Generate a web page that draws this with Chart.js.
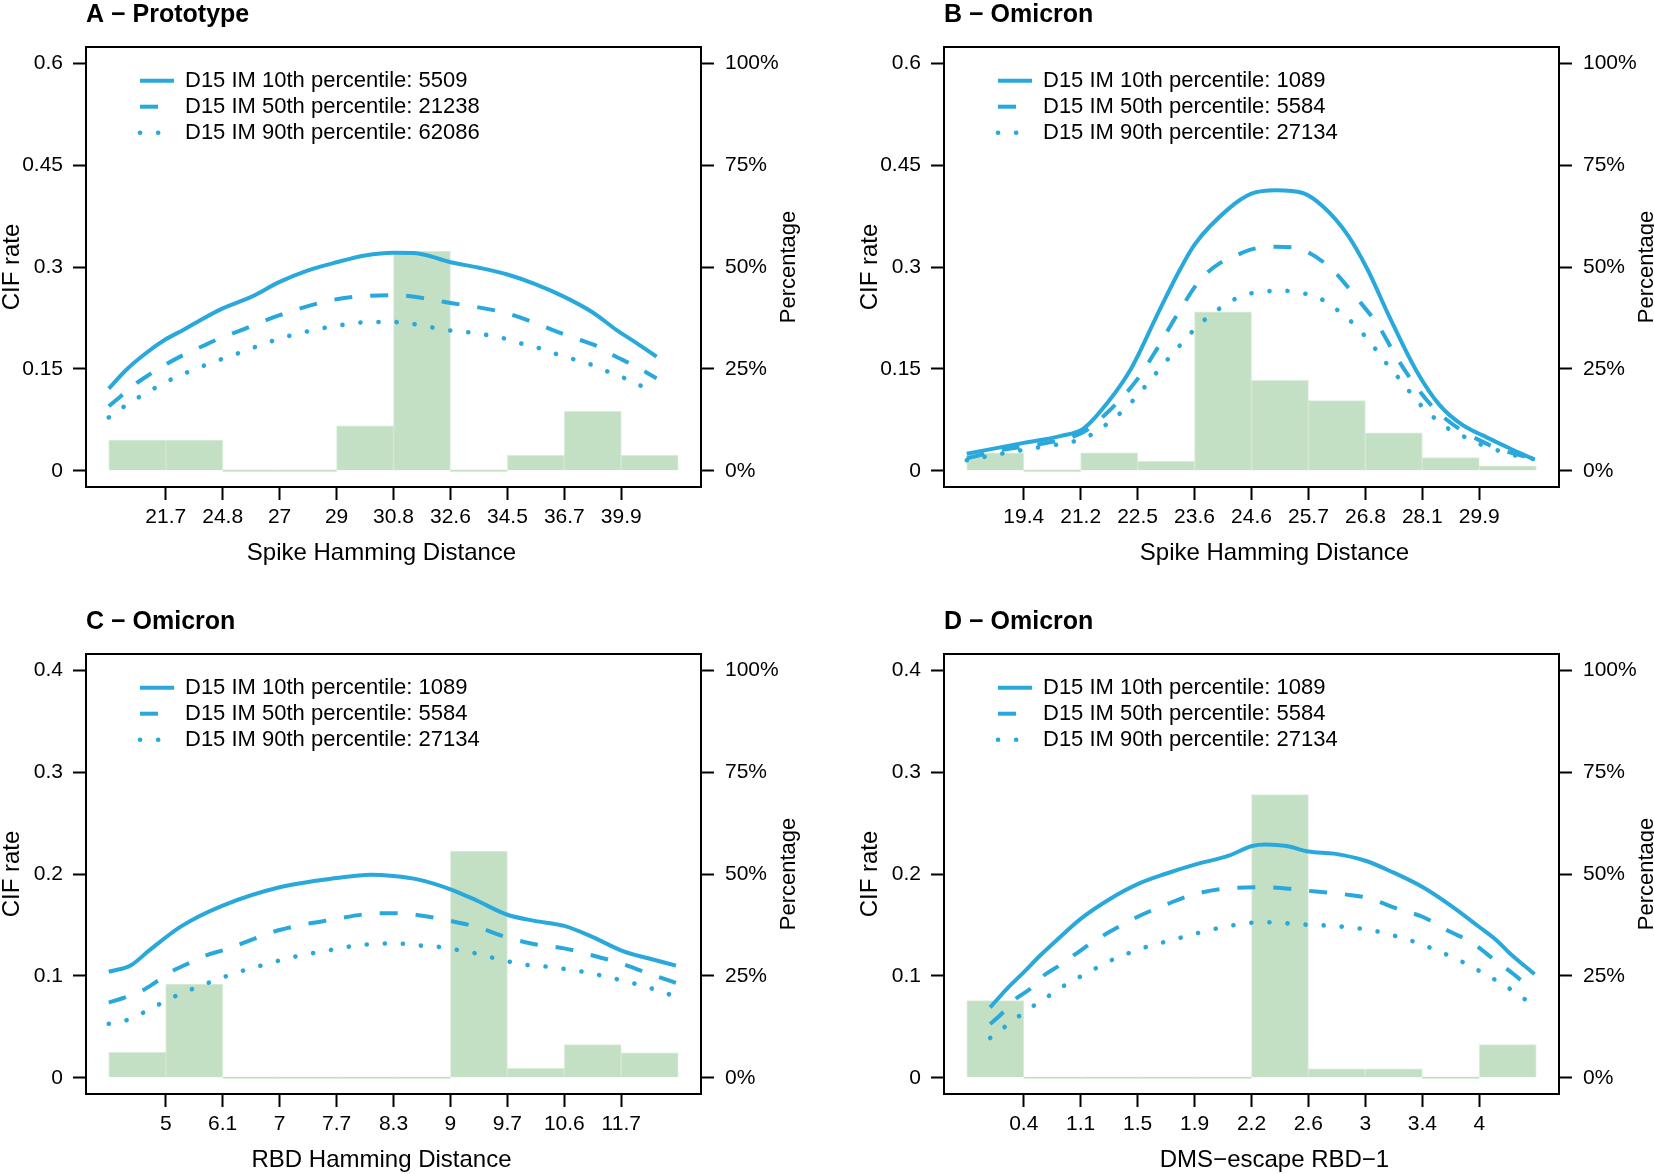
<!DOCTYPE html>
<html>
<head>
<meta charset="utf-8">
<script src="https://cdn.jsdelivr.net/npm/chart.js@4.4.1/dist/chart.umd.min.js"></script>
<style>
  html, body { margin: 0; padding: 0; background: #fff; }
  body { width: 1654px; height: 1174px; position: relative; overflow: hidden; }
  canvas { position: absolute; }
</style>
</head>
<body>
<canvas id="chartA" width="858" height="567" style="left:0px;top:0px"></canvas>
<canvas id="chartB" width="796" height="567" style="left:858px;top:0px"></canvas>
<canvas id="chartC" width="858" height="567" style="left:0px;top:607px"></canvas>
<canvas id="chartD" width="796" height="567" style="left:858px;top:607px"></canvas>
<script>
// tick labels on the bin boundaries
var xTicksA = ['21.7', '24.8', '27', '29', '30.8', '32.6', '34.5', '36.7', '39.9'];
var xTicksB = ['19.4', '21.2', '22.5', '23.6', '24.6', '25.7', '26.8', '28.1', '29.9'];
var xTicksC = ['5', '6.1', '7', '7.7', '8.3', '9', '9.7', '10.6', '11.7'];
var xTicksD = ['0.4', '1.1', '1.5', '1.9', '2.2', '2.6', '3', '3.4', '4'];

var cifTicksAB = [0, 0.15, 0.3, 0.45, 0.6];
var cifTicksCD = [0, 0.1, 0.2, 0.3, 0.4];
var pctTicks = [0, 25, 50, 75, 100];

// histogram, % of subjects per bin (10 bins)
var pctA = [7.5, 7.5, 0, 0, 11.0, 53.9, 0, 3.8, 14.6, 3.8];
var pctB = [4.4, 0, 4.4, 2.3, 39.0, 22.2, 17.2, 9.3, 3.2, 1.2];
var pctC = [6.2, 23.0, 0, 0, 0, 0, 55.6, 2.3, 8.1, 6.1];
var pctD = [18.9, 0, 0, 0, 0, 69.5, 2.2, 2.2, 0, 8.1];

// CIF curves: [position in bins, CIF rate]
var p10A = [[0,0.121],[0.3,0.148],[0.65,0.173],[1,0.1935],[1.3,0.207],[1.53,0.218],[2,0.239],[2.5,0.256],[3,0.278],[3.5,0.295],[4,0.307],[4.5,0.317],[5,0.321],[5.36,0.3207],[6,0.307],[6.5,0.299],[7,0.289],[7.5,0.2745],[8,0.256],[8.5,0.233],[8.92,0.207],[9.27,0.188],[9.62,0.168]];
var p50A = [[0,0.095],[0.2,0.109],[0.48,0.1286],[0.74,0.143],[1.03,0.158],[1.3,0.17],[1.65,0.1836],[1.91,0.1935],[2.26,0.2047],[3,0.229],[4,0.2525],[5,0.2585],[6,0.247],[7,0.2316],[7.98,0.2013],[8.28,0.1925],[8.6,0.1826],[8.86,0.17],[9.21,0.1556],[9.45,0.1443],[9.62,0.136]];
var p90A = [[0,0.0785],[0.26,0.094],[0.54,0.1089],[0.83,0.1227],[1.12,0.1354],[1.43,0.1468],[1.74,0.157],[2.05,0.1664],[2.35,0.1752],[2.66,0.185],[2.98,0.194],[3.29,0.2013],[4,0.2134],[4.63,0.219],[4.98,0.219],[5.3,0.2167],[5.6,0.2123],[5.95,0.207],[6.23,0.2047],[6.55,0.201],[6.87,0.1964],[7.19,0.1885],[7.51,0.1817],[7.82,0.1729],[8.15,0.1645],[8.46,0.1566],[8.77,0.1457],[9.08,0.1354],[9.38,0.1236],[9.62,0.114]];

var p10B = [[0,0.025],[1,0.041],[1.64,0.051],[2.05,0.062],[2.46,0.099],[2.89,0.151],[3.33,0.227],[3.68,0.286],[4,0.333],[4.6,0.386],[5,0.408],[5.43,0.413],[5.9,0.409],[6.27,0.388],[6.69,0.347],[7.04,0.296],[7.42,0.227],[7.89,0.148],[8.3,0.097],[8.71,0.067],[9.06,0.052],[9.53,0.033],[9.97,0.0165]];
var p50B = [[0,0.018],[0.64,0.031],[1.34,0.04],[2.05,0.057],[2.51,0.089],[2.98,0.133],[3.33,0.178],[3.71,0.232],[4.1,0.281],[4.45,0.306],[4.68,0.315],[5,0.326],[5.43,0.33],[5.9,0.325],[6.42,0.296],[6.83,0.256],[7.24,0.212],[7.54,0.168],[7.89,0.124],[8.24,0.089],[8.59,0.065],[9,0.045],[9.41,0.03],[9.94,0.018]];
var p90B = [[0,0.0155],[0.67,0.026],[1.31,0.035],[1.96,0.045],[2.25,0.056],[2.51,0.072],[2.75,0.089],[2.98,0.109],[3.2,0.131],[3.42,0.153],[3.63,0.174],[3.84,0.1935],[4.07,0.2146],[4.33,0.232],[4.59,0.2475],[4.89,0.259],[5.2,0.2637],[5.55,0.265],[5.87,0.262],[6.19,0.254],[6.47,0.239],[6.72,0.222],[6.95,0.2024],[7.17,0.18],[7.37,0.158],[7.58,0.137],[7.78,0.116],[7.99,0.095],[8.24,0.0755],[8.5,0.0597],[8.8,0.0475],[9.1,0.036],[9.41,0.0277],[9.73,0.0204],[9.97,0.017]];

var p10C = [[0,0.104],[0.39,0.1105],[0.71,0.125],[1.27,0.1486],[2,0.169],[3,0.187],[4,0.196],[4.6,0.1993],[5,0.198],[5.44,0.1945],[6,0.185],[6.46,0.174],[7,0.16],[7.48,0.154],[8,0.149],[8.5,0.138],[9.04,0.124],[9.49,0.117],[9.96,0.11]];
var p50C = [[0,0.0738],[0.24,0.078],[0.6,0.086],[0.83,0.094],[1.15,0.1057],[1.39,0.112],[1.77,0.1213],[2,0.125],[3,0.145],[4,0.156],[4.6,0.161],[5,0.1615],[5.44,0.1596],[6,0.154],[6.46,0.148],[7,0.1376],[7.48,0.131],[8,0.127],[8.5,0.12],[9,0.112],[9.5,0.102],[9.96,0.093]];
var p90C = [[0,0.053],[0.3,0.0562],[0.61,0.064],[0.9,0.0725],[1.19,0.0806],[1.5,0.0878],[1.8,0.0943],[2.12,0.1008],[2.43,0.1063],[2.75,0.1112],[3.06,0.116],[3.39,0.1203],[3.71,0.1235],[4.05,0.127],[4.37,0.13],[4.72,0.1314],[5.05,0.132],[5.38,0.13],[5.72,0.129],[6,0.1265],[6.33,0.1235],[6.65,0.119],[6.97,0.1147],[7.29,0.111],[7.61,0.1095],[7.94,0.1073],[8.26,0.1047],[8.59,0.101],[8.91,0.0969],[9.24,0.0923],[9.56,0.0871],[9.87,0.0813],[9.96,0.0795]];

var p10D = [[0.41,0.069],[0.7,0.087],[0.99,0.103],[1.29,0.12],[1.52,0.132],[2,0.156],[2.5,0.175],[3,0.19],[3.48,0.2],[3.99,0.209],[4.6,0.218],[5.01,0.2275],[5.25,0.229],[5.62,0.2275],[6,0.222],[6.45,0.22],[7,0.213],[7.47,0.202],[8.01,0.187],[8.5,0.169],[9,0.148],[9.32,0.134],[9.52,0.123],[9.97,0.1016]];
var p50D = [[0.41,0.0528],[0.61,0.0626],[0.85,0.077],[1.11,0.087],[1.34,0.0999],[1.61,0.1096],[1.9,0.121],[2.13,0.13],[2.5,0.143],[3,0.158],[3.5,0.17],[3.99,0.18],[4.6,0.186],[5.25,0.187],[6,0.1835],[6.64,0.18],[7,0.177],[7.61,0.165],[8,0.158],[8.5,0.143],[8.83,0.134],[9,0.1275],[9.29,0.1145],[9.53,0.1048],[9.82,0.0918],[9.97,0.0853]];
var p90D = [[0.41,0.039],[0.67,0.05],[0.93,0.061],[1.2,0.0716],[1.47,0.0814],[1.75,0.0918],[2.05,0.1009],[2.34,0.1096],[2.63,0.1177],[2.94,0.1243],[3.25,0.13],[3.6,0.135],[3.92,0.14],[4.57,0.1486],[5.23,0.1527],[5.88,0.1505],[6.53,0.1486],[7.18,0.144],[7.5,0.1395],[7.83,0.134],[8.12,0.128],[8.42,0.121],[8.71,0.1135],[9,0.1048],[9.29,0.0957],[9.57,0.086],[9.84,0.0755],[9.97,0.071]];

var legendProto = ['D15 IM 10th percentile: 5509', 'D15 IM 50th percentile: 21238', 'D15 IM 90th percentile: 62086'];
var legendOmi = ['D15 IM 10th percentile: 1089', 'D15 IM 50th percentile: 5584', 'D15 IM 90th percentile: 27134'];

var FONT = '"Liberation Sans", Arial, Helvetica, sans-serif';
var BLUE = '#29a8dc';
var GREEN = '#c4e0c4';

Chart.defaults.font.family = FONT;
Chart.defaults.color = '#000';

function toPoints(arr) {
  return arr.map(function (p) { return {x: p[0], y: p[1]}; });
}

function lineSet(label, arr, dash, cap, width) {
  return {
    type: 'line', label: label, data: toPoints(arr), yAxisID: 'y',
    borderColor: BLUE, backgroundColor: BLUE, borderWidth: width,
    borderDash: dash, borderCapStyle: cap,
    pointRadius: 0, pointHoverRadius: 0,
    cubicInterpolationMode: 'monotone', fill: false, order: 1
  };
}

function makePanel(id, p) {
  var canvas = document.getElementById(id);
  var W = canvas.width;
  var top = p.cifTicks[p.cifTicks.length - 1];
  var pad = top * 0.04;

  // frame, x title, right-hand title, legend placement
  var decor = {
    id: 'decor' + id,
    afterLayout: function (chart) {
      var a = chart.chartArea;
      chart.legend.left = a.left + 50;
      chart.legend.top = a.top + 18.7;
    },
    afterDraw: function (chart) {
      var ctx = chart.ctx, a = chart.chartArea;
      ctx.save();
      ctx.strokeStyle = '#000';
      ctx.lineWidth = 2;
      ctx.strokeRect(a.left, a.top, a.right - a.left, a.bottom - a.top);
      ctx.fillStyle = '#000';
      ctx.textAlign = 'center';
      ctx.textBaseline = 'middle';
      ctx.font = '24px ' + FONT;
      ctx.fillText(p.xlab, (a.left + a.right) / 2 + p.xlabShift, 553);
      ctx.translate(a.right + 87.5, (a.top + a.bottom) / 2);
      ctx.rotate(-Math.PI / 2);
      ctx.font = '22px ' + FONT;
      ctx.fillText('Percentage', 0, 0);
      ctx.restore();
    }
  };

  var tickGrid = {display: true, drawOnChartArea: false, drawTicks: true, tickLength: 13, tickWidth: 2, tickColor: '#000', offset: false};

  return new Chart(canvas, {
    type: 'line',
    data: {
      datasets: [
        lineSet(p.legend[0], p.p10, [], 'butt', 4),
        lineSet(p.legend[1], p.p50, [18, 18], 'butt', 4),
        lineSet(p.legend[2], p.p90, [0.1, 18], 'round', 4.6),
        {
          type: 'bar', label: 'Percentage', yAxisID: 'y2',
          data: p.pct.map(function (v, i) { return {x: i + 0.5, y: v}; }),
          backgroundColor: GREEN, borderColor: 'rgba(150,200,150,0.35)', borderWidth: 1,
          barPercentage: 1, categoryPercentage: 1, minBarLength: 2, order: 5
        }
      ]
    },
    options: {
      responsive: false,
      animation: false,
      events: [],
      layout: {padding: 0},
      plugins: {
        title: {
          display: true, text: p.title, align: 'start', fullSize: false,
          font: {size: 25, weight: 'bold', family: FONT}, color: '#000',
          padding: {top: 0, bottom: 17}
        },
        legend: {
          position: 'chartArea', align: 'start',
          labels: {
            usePointStyle: true, pointStyleWidth: 34, padding: 4,
            font: {size: 22, family: FONT}, color: '#000',
            generateLabels: function (chart) {
              return chart.data.datasets.slice(0, 3).map(function (ds, i) {
                return {
                  text: ds.label, fontColor: '#000', strokeStyle: ds.borderColor, fillStyle: ds.borderColor,
                  lineWidth: ds.borderWidth, lineDash: ds.borderDash, lineCap: ds.borderCapStyle,
                  pointStyle: 'line', rotation: 180, hidden: false, datasetIndex: i
                };
              });
            }
          }
        },
        tooltip: {enabled: false}
      },
      scales: {
        x: {
          type: 'linear', min: -0.4, max: 10.4, offset: false,
          afterBuildTicks: function (s) {
            s.ticks = p.xTicks.map(function (t, i) { return {value: i + 1}; });
          },
          afterFit: function (s) { s.height = 80; },
          grid: tickGrid,
          border: {display: false},
          ticks: {
            font: {size: 21, family: FONT}, color: '#000', padding: 5, maxRotation: 0, autoSkip: false,
            callback: function (v, i) { return p.xTicks[i]; }
          }
        },
        y: {
          position: 'left', min: -pad, max: top + pad,
          afterBuildTicks: function (s) {
            s.ticks = p.cifTicks.map(function (v) { return {value: v}; });
          },
          afterFit: function (s) { s.width = 86; },
          grid: tickGrid,
          border: {display: false},
          ticks: {
            font: {size: 21, family: FONT}, color: '#000', padding: 10, autoSkip: false,
            callback: function (v, i) { return String(p.cifTicks[i]); }
          },
          title: {display: true, text: 'CIF rate', color: '#000', font: {size: 24, family: FONT, lineHeight: 1}, padding: 0}
        },
        y2: {
          position: 'right', min: -4, max: 104,
          afterBuildTicks: function (s) {
            s.ticks = pctTicks.map(function (v) { return {value: v}; });
          },
          afterFit: function (s) { s.width = W - 701; },
          grid: tickGrid,
          border: {display: false},
          ticks: {
            font: {size: 21, family: FONT}, color: '#000', padding: 11, autoSkip: false,
            callback: function (v, i) { return pctTicks[i] + '%'; }
          }
        }
      }
    },
    plugins: [decor]
  });
}

makePanel('chartA', {title: 'A \u2212 Prototype', xlab: 'Spike Hamming Distance', xlabShift: -12,
  xTicks: xTicksA, cifTicks: cifTicksAB, pct: pctA, p10: p10A, p50: p50A, p90: p90A, legend: legendProto});
makePanel('chartB', {title: 'B \u2212 Omicron', xlab: 'Spike Hamming Distance', xlabShift: 23,
  xTicks: xTicksB, cifTicks: cifTicksAB, pct: pctB, p10: p10B, p50: p50B, p90: p90B, legend: legendOmi});
makePanel('chartC', {title: 'C \u2212 Omicron', xlab: 'RBD Hamming Distance', xlabShift: -12,
  xTicks: xTicksC, cifTicks: cifTicksCD, pct: pctC, p10: p10C, p50: p50C, p90: p90C, legend: legendOmi});
makePanel('chartD', {title: 'D \u2212 Omicron', xlab: 'DMS\u2212escape RBD\u22121', xlabShift: 23,
  xTicks: xTicksD, cifTicks: cifTicksCD, pct: pctD, p10: p10D, p50: p50D, p90: p90D, legend: legendOmi});
</script>
</body>
</html>
